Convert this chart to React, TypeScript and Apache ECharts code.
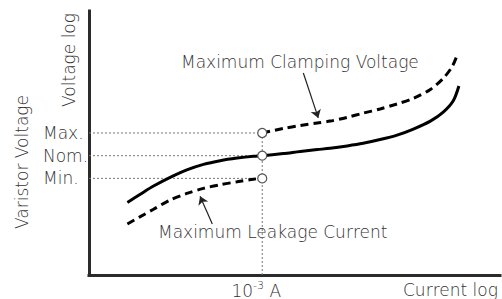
import React, { useEffect, useRef } from "react";
import * as echarts from "echarts";

// x = log10(current in A), y = relative log voltage
const solidX = [-6.97, -6.59, -6.2, -5.71, -5.22, -4.73, -4.24, -3.74, -3.26, -3.0, -2.38, -1.88, -1.38, -1.0, -0.5, -0.03, 0.47, 0.97, 1.45, 1.95, 2.33, 2.62, 2.79];
const solidY = [27.5, 30.6, 33.7, 37.0, 39.8, 41.9, 43.3, 44.3, 45.0, 45.2, 46.0, 46.8, 47.5, 48.0, 48.9, 49.9, 51.3, 53.0, 55.3, 58.3, 61.7, 65.9, 71.6];

const clampX = [-3.0, -2.38, -1.88, -1.38, -1.0, -0.5, -0.03, 0.47, 0.97, 1.45, 1.95, 2.33, 2.59, 2.74];
const clampY = [53.8, 55.5, 56.6, 57.6, 58.3, 59.7, 61.3, 62.9, 64.8, 66.9, 70.3, 74.5, 78.9, 83.3];

const leakX = [-6.97, -6.59, -6.2, -5.71, -5.22, -4.73, -4.24, -3.74, -3.26, -3.0];
const leakY = [19.3, 22.1, 24.9, 28.4, 30.9, 32.8, 34.2, 35.3, 36.3, 36.6];

const levelNames = ["Min.", "Nom.", "Max."];
const levelValues = [36.6, 45.2, 53.8];

const markCurrent = -3;
const xTickValues = [-3];
const xTickLabels = ["{n|10}{s|-3}{n| A}"];

const xMin = -8.1;
const xMax = 4;
const yMin = 0;
const yMax = 100;

// annotation arrows: [tailX, tailY, tipX, tipY]
const clampArrow = [-1.79, 76.5, -1.35, 59.5];
const leakArrow = [-4.47, 19.3, -4.83, 29.8];

const FONT = "'DejaVu Sans', Verdana, sans-serif";
const TXT = "#333";
const FS = 17;
const FW = 200;

export default function App() {
  const ref = useRef<HTMLDivElement>(null);
  useEffect(() => {
    if (!ref.current) return;
    const chart = echarts.init(ref.current, null, { renderer: "svg" });
    const zip = (xs: number[], ys: number[]) => xs.map((x, i) => [x, ys[i]]);
    const dotted = { color: "#777", width: 1, type: [2, 2] as any };
    const guideSeries: any[] = levelValues.map((v) => ({
      type: "line",
      data: [[xMin, v], [markCurrent, v]],
      symbol: "none",
      silent: true,
      lineStyle: dotted,
      z: 1,
    }));
    guideSeries.push({
      type: "line",
      data: [[markCurrent, yMin], [markCurrent, Math.max(...levelValues)]],
      symbol: "none",
      silent: true,
      lineStyle: dotted,
      z: 1,
    });
    const font = `${FW} ${FS}px ${FONT}`;
    const option: any = {
      animation: false,
      grid: { left: 89, top: 11, right: 2, bottom: 24 },
      xAxis: {
        type: "value",
        min: xMin,
        max: xMax,
        splitLine: { show: false },
        axisTick: { show: false },
        axisLine: { show: true, onZero: false, lineStyle: { color: "#2b2b2b", width: 3, cap: "square" } },
        axisLabel: {
          customValues: xTickValues,
          formatter: (v: number) => xTickLabels[xTickValues.indexOf(v)] ?? "",
          margin: 5,
          padding: [0, 12, 0, 0],
          rich: {
            n: { fontSize: FS, fontWeight: FW, fontFamily: FONT, color: TXT, lineHeight: 19, verticalAlign: "bottom" },
            s: { fontSize: 11, fontWeight: FW, fontFamily: FONT, color: TXT, lineHeight: 11, verticalAlign: "top" },
          },
        },
      },
      yAxis: {
        type: "value",
        min: yMin,
        max: yMax,
        splitLine: { show: false },
        axisTick: { show: false },
        axisLine: { show: true, onZero: false, lineStyle: { color: "#2b2b2b", width: 3, cap: "square" } },
        axisLabel: {
          customValues: levelValues,
          formatter: (v: number) => levelNames[levelValues.indexOf(v)] ?? "",
          align: "left",
          margin: 46,
          fontSize: FS,
          fontWeight: FW,
          fontFamily: FONT,
          color: TXT,
          padding: [0, 0, 3, 0],
        },
      },
      graphic: [
        { type: "text", x: 181, y: 62, style: { text: "Maximum Clamping Voltage", font, fill: TXT, verticalAlign: "middle" } },
        { type: "text", x: 158, y: 232, style: { text: "Maximum Leakage Current", font, fill: TXT, verticalAlign: "middle" } },
        { type: "text", x: 403, y: 289.5, style: { text: "Current log", font, fill: TXT, verticalAlign: "middle" } },
        { type: "text", x: 69, y: 60, rotation: Math.PI / 2, style: { text: "Voltage log", font, fill: TXT, align: "center", verticalAlign: "middle" } },
        { type: "text", x: 22, y: 162, rotation: Math.PI / 2, style: { text: "Varistor Voltage", font, fill: TXT, align: "center", verticalAlign: "middle" } },
      ],
      series: [
        ...guideSeries,
        {
          type: "line",
          data: zip(solidX, solidY),
          smooth: 0.3,
          symbol: "none",
          lineStyle: { color: "#000", width: 3 },
          z: 3,
        },
        {
          type: "line",
          data: zip(clampX, clampY),
          smooth: 0.3,
          symbol: "none",
          lineStyle: { color: "#000", width: 3, type: [8, 5] },
          z: 3,
        },
        {
          type: "line",
          data: zip(leakX, leakY),
          smooth: 0.3,
          symbol: "none",
          lineStyle: { color: "#000", width: 3, type: [8, 5] },
          z: 3,
        },
        {
          type: "scatter",
          data: levelValues.map((v) => [markCurrent, v]),
          symbol: "circle",
          symbolSize: 9,
          itemStyle: { color: "#fff", borderColor: "#555", borderWidth: 1.2, opacity: 1 },
          z: 5,
          silent: true,
          markLine: {
            silent: true,
            symbol: ["none", "arrow"],
            symbolSize: 8,
            label: { show: false },
            lineStyle: { color: "#222", width: 1.2, type: "solid" },
            data: [
              [{ coord: [clampArrow[0], clampArrow[1]] }, { coord: [clampArrow[2], clampArrow[3]] }],
              [{ coord: [leakArrow[0], leakArrow[1]] }, { coord: [leakArrow[2], leakArrow[3]] }],
            ],
          },
        },
      ],
    };
    chart.setOption(option);
    return () => chart.dispose();
  }, []);
  return <div ref={ref} style={{ position: "absolute", left: 0, top: 0, width: 502, height: 299 }} />;
}
